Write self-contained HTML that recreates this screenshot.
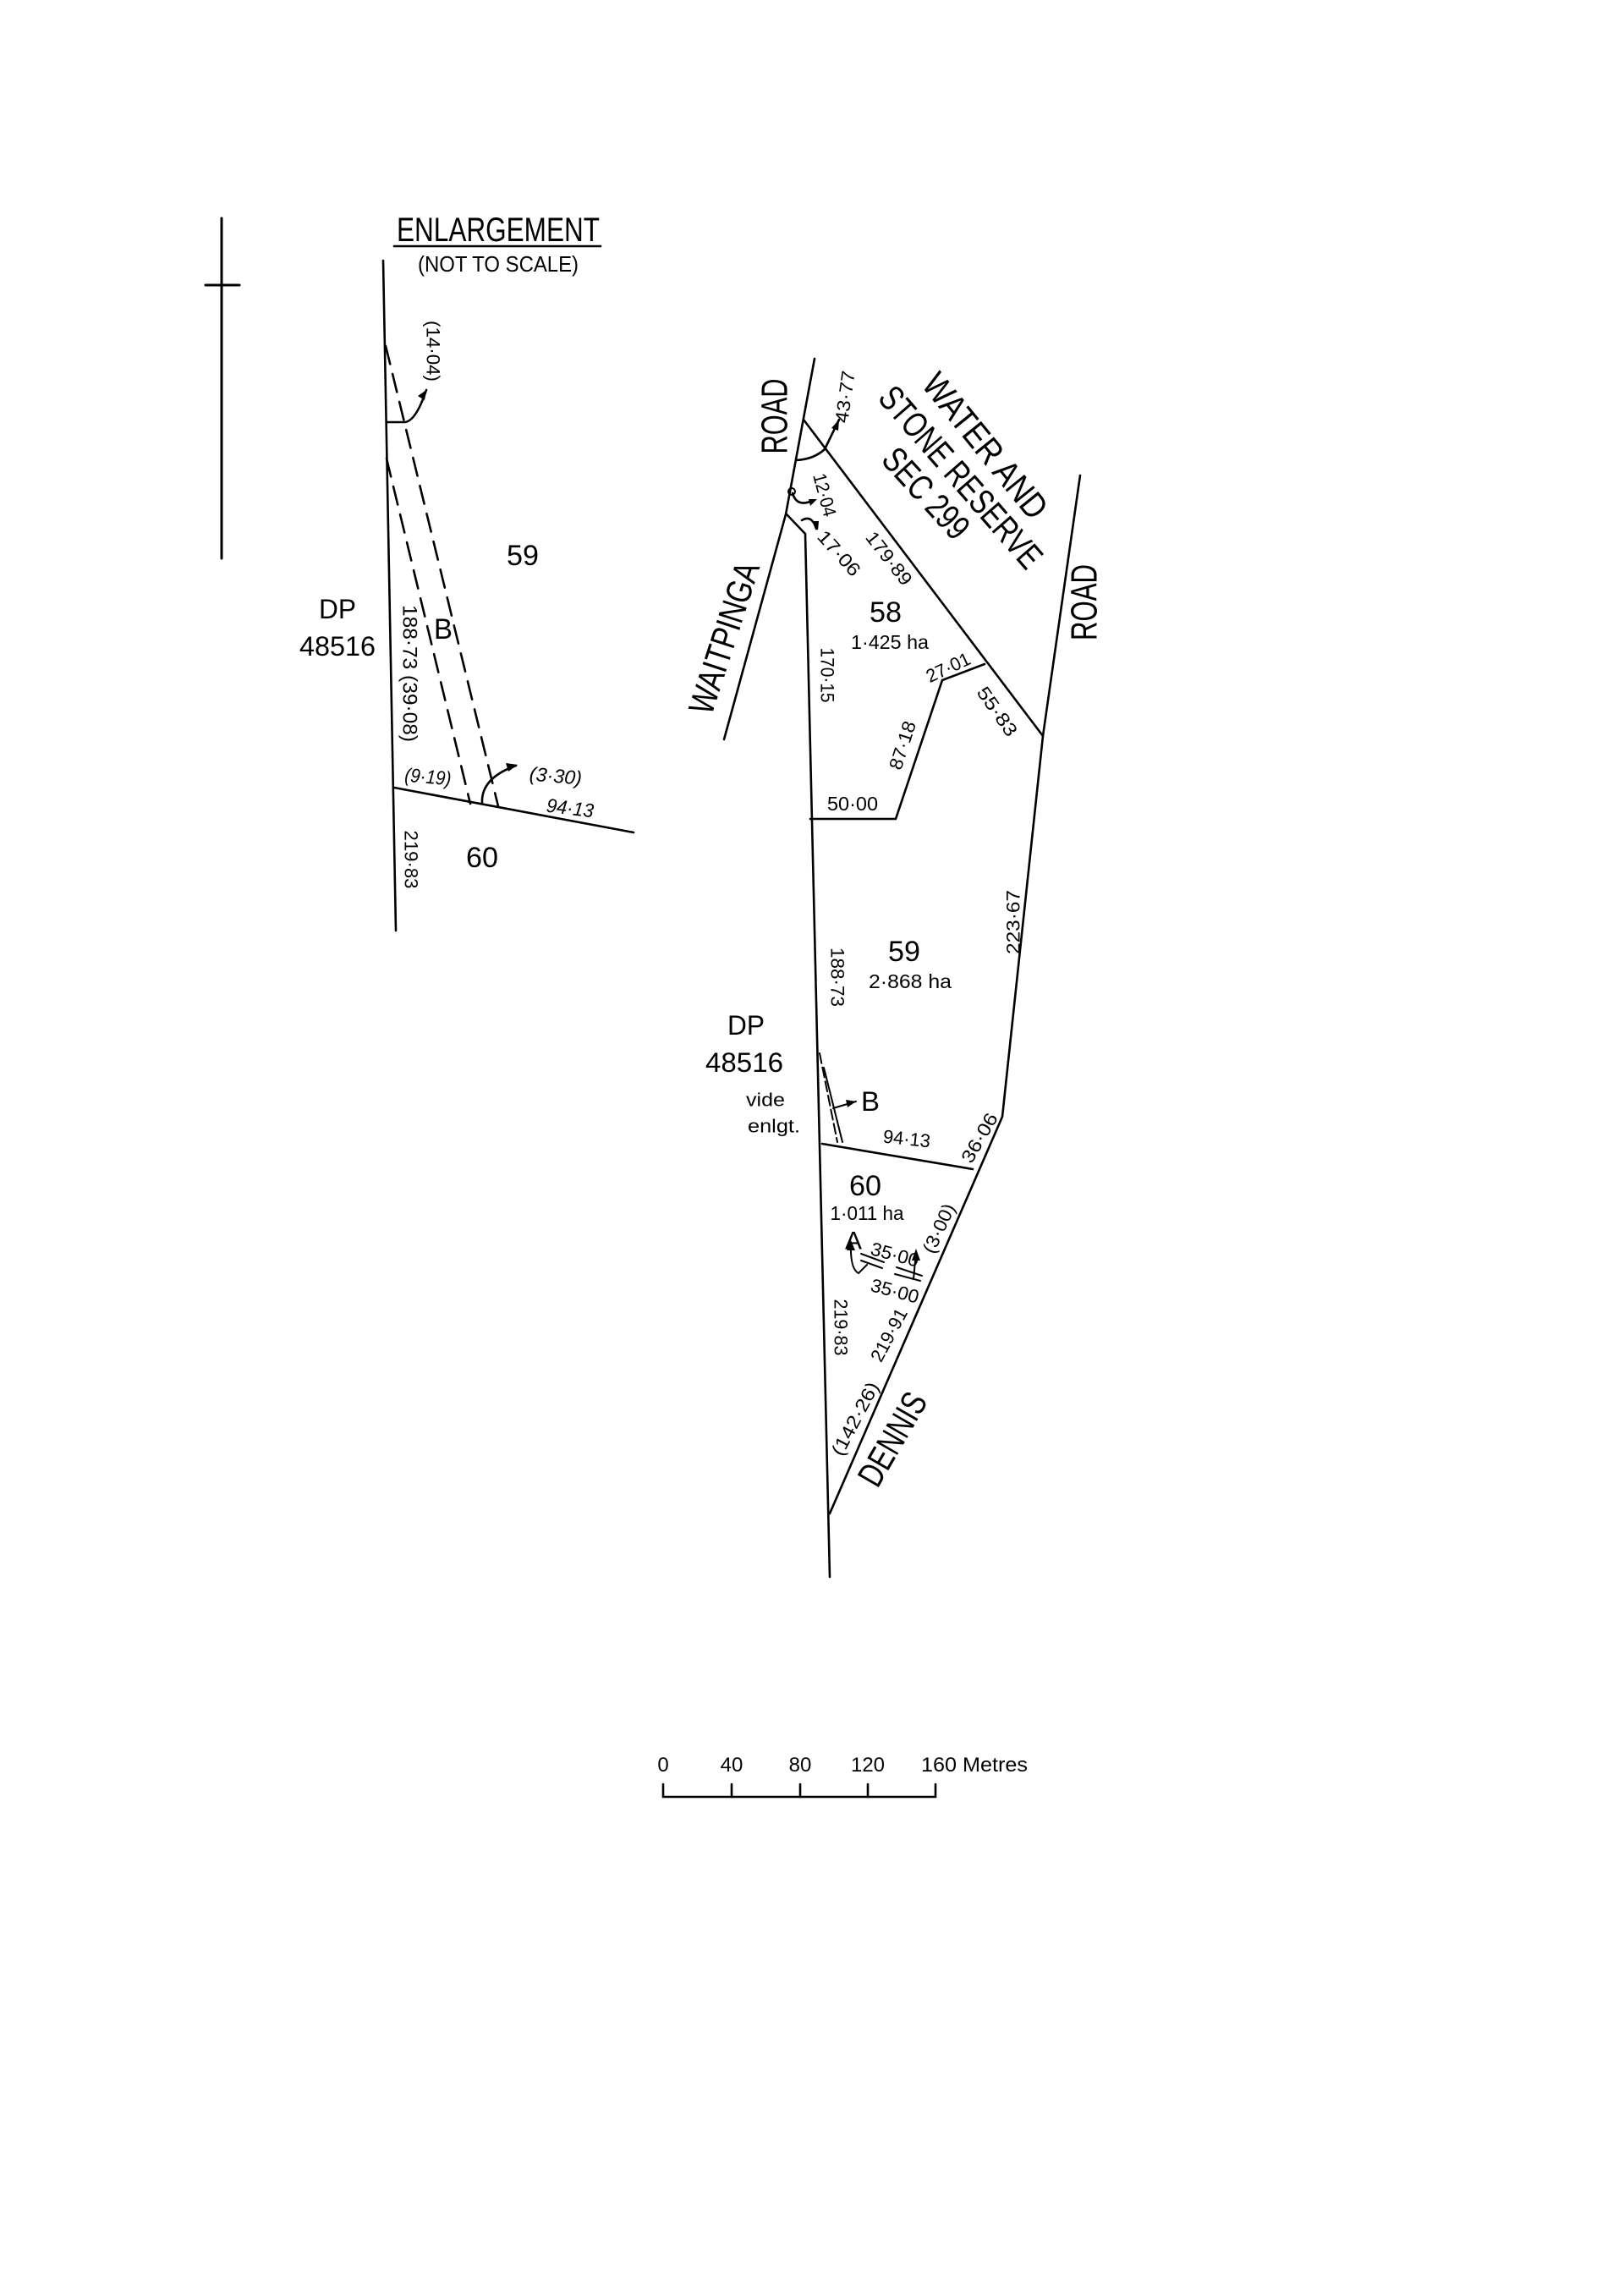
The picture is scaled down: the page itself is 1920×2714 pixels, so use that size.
<!DOCTYPE html>
<html><head><meta charset="utf-8"><style>
html,body{margin:0;padding:0;background:#fff;}
svg{display:block;}
text{font-family:"Liberation Sans",sans-serif;fill:#000;}
</style></head><body>
<svg width="1920" height="2714" viewBox="0 0 1920 2714" xmlns="http://www.w3.org/2000/svg">
<g stroke="#000" stroke-width="2.6" fill="none" stroke-linecap="round">
<!-- north arrow -->
<line x1="262" y1="258" x2="262" y2="660" stroke-width="3"/>
<line x1="243" y1="337" x2="283" y2="337" stroke-width="3"/>
<!-- enlargement -->
<line x1="466" y1="291" x2="710" y2="291"/>
<line x1="453" y1="308" x2="468" y2="1100"/>
<line x1="466" y1="931" x2="749" y2="984"/>
<line x1="456" y1="409" x2="589" y2="953" stroke-dasharray="22,12"/>
<line x1="457" y1="542" x2="556" y2="950" stroke-dasharray="22,12"/>
<path d="M457 499 L479 499 Q492 497 504 461"/>
<path d="M570 950 Q568 920 610 905"/>
<!-- main plan -->
<polyline points="963,424 929,608 856,874"/>
<circle cx="936" cy="581" r="4" stroke-width="2"/>
<polyline points="930,608 952,631 981,1864"/>
<polyline points="958,968 1059,968 1114,804 1164,785"/>
<line x1="950" y1="496" x2="1233" y2="870"/>
<polyline points="1277,562 1233,870 1185,1320 981,1789"/>
<line x1="972" y1="1352" x2="1150" y2="1382"/>
<path d="M941 544 Q962 543 975 531"/>
<path d="M975 531 L992 496"/>
<path d="M937 583 Q942 600 960 592"/>
<path d="M948 615 Q960 608 965 625"/>
<line x1="969" y1="1245" x2="990" y2="1350" stroke-dasharray="12,5" stroke-width="2"/>
<line x1="974" y1="1262" x2="996" y2="1350" stroke-width="2"/>
<line x1="985" y1="1310" x2="1012" y2="1302" stroke-width="2"/>
<!-- easement A markings -->
<line x1="1018" y1="1482" x2="1045" y2="1492" stroke-width="2"/>
<line x1="1018" y1="1490" x2="1043" y2="1499" stroke-width="2"/>
<line x1="1060" y1="1498" x2="1090" y2="1508" stroke-width="2"/>
<line x1="1058" y1="1506" x2="1088" y2="1514" stroke-width="2"/>
<line x1="1080" y1="1512" x2="1083" y2="1480" stroke-width="2"/>
<path d="M1006 1470 Q1005 1500 1015 1505 L1025 1495" stroke-width="2"/>
<!-- scale bar -->
<polyline points="784,2109 784,2124 1106,2124 1106,2109"/>
<line x1="865" y1="2109" x2="865" y2="2124"/>
<line x1="946" y1="2109" x2="946" y2="2124"/>
<line x1="1026" y1="2109" x2="1026" y2="2124"/>
</g>
<g fill="#000" stroke="none">
<polygon points="504,461 494,468 502,473"/>
<polygon points="612,904 598,902 601,912"/>
<polygon points="992,496 983,506 991,509"/>
<polygon points="966,590 956,590 958,598"/>
<polygon points="967,627 960,616 968,616"/>
<polygon points="1012,1302 1000,1300 1002,1309"/>
<polygon points="1083,1476 1078,1490 1088,1490"/>
<polygon points="1006,1466 1001,1478 1011,1478"/>
</g>
<g text-anchor="middle" dominant-baseline="central" font-size="24">
<text x="589" y="272" font-size="40" textLength="240" lengthAdjust="spacingAndGlyphs">ENLARGEMENT</text>
<text x="589" y="312" font-size="26" textLength="190" lengthAdjust="spacingAndGlyphs">(NOT TO SCALE)</text>
<text x="512" y="415" transform="rotate(90 512 415)" font-size="22" textLength="72" lengthAdjust="spacingAndGlyphs">(14·04)</text>
<text x="618" y="657" font-size="34" textLength="38" lengthAdjust="spacingAndGlyphs">59</text>
<text x="399" y="720" font-size="32" textLength="44" lengthAdjust="spacingAndGlyphs">DP</text>
<text x="399" y="764" font-size="32" textLength="90" lengthAdjust="spacingAndGlyphs">48516</text>
<text x="484" y="796" transform="rotate(90 484 796)" font-size="24" textLength="162" lengthAdjust="spacingAndGlyphs">188·73 (39·08)</text>
<text x="524" y="744" font-size="34" textLength="22" lengthAdjust="spacingAndGlyphs">B</text>
<text x="506" y="918" transform="rotate(5 506 918)" font-size="23" font-style="italic" textLength="55" lengthAdjust="spacingAndGlyphs">(9·19)</text>
<text x="657" y="917" transform="rotate(5 657 917)" font-size="23" font-style="italic" textLength="62" lengthAdjust="spacingAndGlyphs">(3·30)</text>
<text x="674" y="955" transform="rotate(7 674 955)" font-size="23" font-style="italic" textLength="56" lengthAdjust="spacingAndGlyphs">94·13</text>
<text x="570" y="1014" font-size="34" textLength="38" lengthAdjust="spacingAndGlyphs">60</text>
<text x="486" y="1016" transform="rotate(90 486 1016)" font-size="22" textLength="69" lengthAdjust="spacingAndGlyphs">219·83</text>

<text x="916" y="492" transform="rotate(-90 916 492)" font-size="44" textLength="89" lengthAdjust="spacingAndGlyphs">ROAD</text>
<text x="999" y="469" transform="rotate(-82 999 469)" font-size="22" textLength="62" lengthAdjust="spacingAndGlyphs">43·77</text>
<text x="1165" y="527" transform="rotate(51 1165 527)" font-size="42" textLength="208" lengthAdjust="spacingAndGlyphs">WATER AND</text>
<text x="1136" y="564" transform="rotate(49 1136 564)" font-size="42" textLength="270" lengthAdjust="spacingAndGlyphs">STONE RESERVE</text>
<text x="1095" y="583" transform="rotate(47.5 1095 583)" font-size="42" textLength="130" lengthAdjust="spacingAndGlyphs">SEC 299</text>
<text x="975" y="585" transform="rotate(75 975 585)" font-size="22" textLength="52" lengthAdjust="spacingAndGlyphs">12·04</text>
<text x="992" y="654" transform="rotate(48 992 654)" font-size="22" textLength="64" lengthAdjust="spacingAndGlyphs">17·06</text>
<text x="1051" y="660" transform="rotate(52 1051 660)" font-size="22" textLength="74" lengthAdjust="spacingAndGlyphs">179·89</text>
<text x="1047" y="724" font-size="34" textLength="38" lengthAdjust="spacingAndGlyphs">58</text>
<text x="1052" y="759" font-size="23" textLength="92" lengthAdjust="spacingAndGlyphs">1·425 ha</text>
<text x="978" y="798" transform="rotate(90 978 798)" font-size="22" textLength="65" lengthAdjust="spacingAndGlyphs">170·15</text>
<text x="1121" y="789" transform="rotate(-25 1121 789)" font-size="22" textLength="55" lengthAdjust="spacingAndGlyphs">27·01</text>
<text x="1179" y="841" transform="rotate(55 1179 841)" font-size="22" textLength="66" lengthAdjust="spacingAndGlyphs">55·83</text>
<text x="1067" y="881" transform="rotate(-72 1067 881)" font-size="22" textLength="59" lengthAdjust="spacingAndGlyphs">87·18</text>
<text x="1008" y="950" font-size="23" textLength="60" lengthAdjust="spacingAndGlyphs">50·00</text>
<text x="856" y="754" transform="rotate(-72 856 754)" font-size="42" textLength="186" lengthAdjust="spacingAndGlyphs">WAITPINGA</text>
<text x="1282" y="712" transform="rotate(-90 1282 712)" font-size="44" textLength="90" lengthAdjust="spacingAndGlyphs">ROAD</text>

<text x="990" y="1155" transform="rotate(90 990 1155)" font-size="22" textLength="70" lengthAdjust="spacingAndGlyphs">188·73</text>
<text x="1069" y="1125" font-size="34" textLength="38" lengthAdjust="spacingAndGlyphs">59</text>
<text x="1076" y="1160" font-size="23" textLength="98" lengthAdjust="spacingAndGlyphs">2·868 ha</text>
<text x="1198" y="1090" transform="rotate(-90 1198 1090)" font-size="22" textLength="76" lengthAdjust="spacingAndGlyphs">223·67</text>
<text x="882" y="1212" font-size="32" textLength="44" lengthAdjust="spacingAndGlyphs">DP</text>
<text x="880" y="1256" font-size="32" textLength="92" lengthAdjust="spacingAndGlyphs">48516</text>
<text x="905" y="1300" font-size="22" textLength="46" lengthAdjust="spacingAndGlyphs">vide</text>
<text x="915" y="1331" font-size="22" textLength="62" lengthAdjust="spacingAndGlyphs">enlgt.</text>
<text x="1029" y="1302" font-size="32" textLength="22" lengthAdjust="spacingAndGlyphs">B</text>
<text x="1072" y="1346" transform="rotate(6 1072 1346)" font-size="22" textLength="56" lengthAdjust="spacingAndGlyphs">94·13</text>
<text x="1158" y="1345" transform="rotate(-60 1158 1345)" font-size="22" textLength="64" lengthAdjust="spacingAndGlyphs">36·06</text>
<text x="1023" y="1402" font-size="34" textLength="38" lengthAdjust="spacingAndGlyphs">60</text>
<text x="1025" y="1434" font-size="23" textLength="87" lengthAdjust="spacingAndGlyphs">1·011 ha</text>
<text x="1009" y="1467" font-size="30" textLength="20" lengthAdjust="spacingAndGlyphs">A</text>
<text x="1058" y="1483" transform="rotate(15 1058 1483)" font-size="22" textLength="58" lengthAdjust="spacingAndGlyphs">35·00</text>
<text x="1058" y="1526" transform="rotate(15 1058 1526)" font-size="22" textLength="58" lengthAdjust="spacingAndGlyphs">35·00</text>
<text x="1110" y="1452" transform="rotate(-65 1110 1452)" font-size="22" textLength="62" lengthAdjust="spacingAndGlyphs">(3·00)</text>
<text x="1051" y="1578" transform="rotate(-62 1051 1578)" font-size="22" textLength="68" lengthAdjust="spacingAndGlyphs">219·91</text>
<text x="994" y="1569" transform="rotate(90 994 1569)" font-size="22" textLength="67" lengthAdjust="spacingAndGlyphs">219·83</text>
<text x="1011" y="1677" transform="rotate(-62 1011 1677)" font-size="22" textLength="95" lengthAdjust="spacingAndGlyphs">(142·26)</text>
<text x="1055" y="1701" transform="rotate(-60 1055 1701)" font-size="42" textLength="120" lengthAdjust="spacingAndGlyphs">DENNIS</text>
</g>
<g font-size="24">
<text x="784" y="2094" text-anchor="middle">0</text>
<text x="865" y="2094" text-anchor="middle">40</text>
<text x="946" y="2094" text-anchor="middle">80</text>
<text x="1026" y="2094" text-anchor="middle">120</text>
<text x="1089" y="2094" textLength="126" lengthAdjust="spacingAndGlyphs">160 Metres</text>
</g>
</svg>
</body></html>
